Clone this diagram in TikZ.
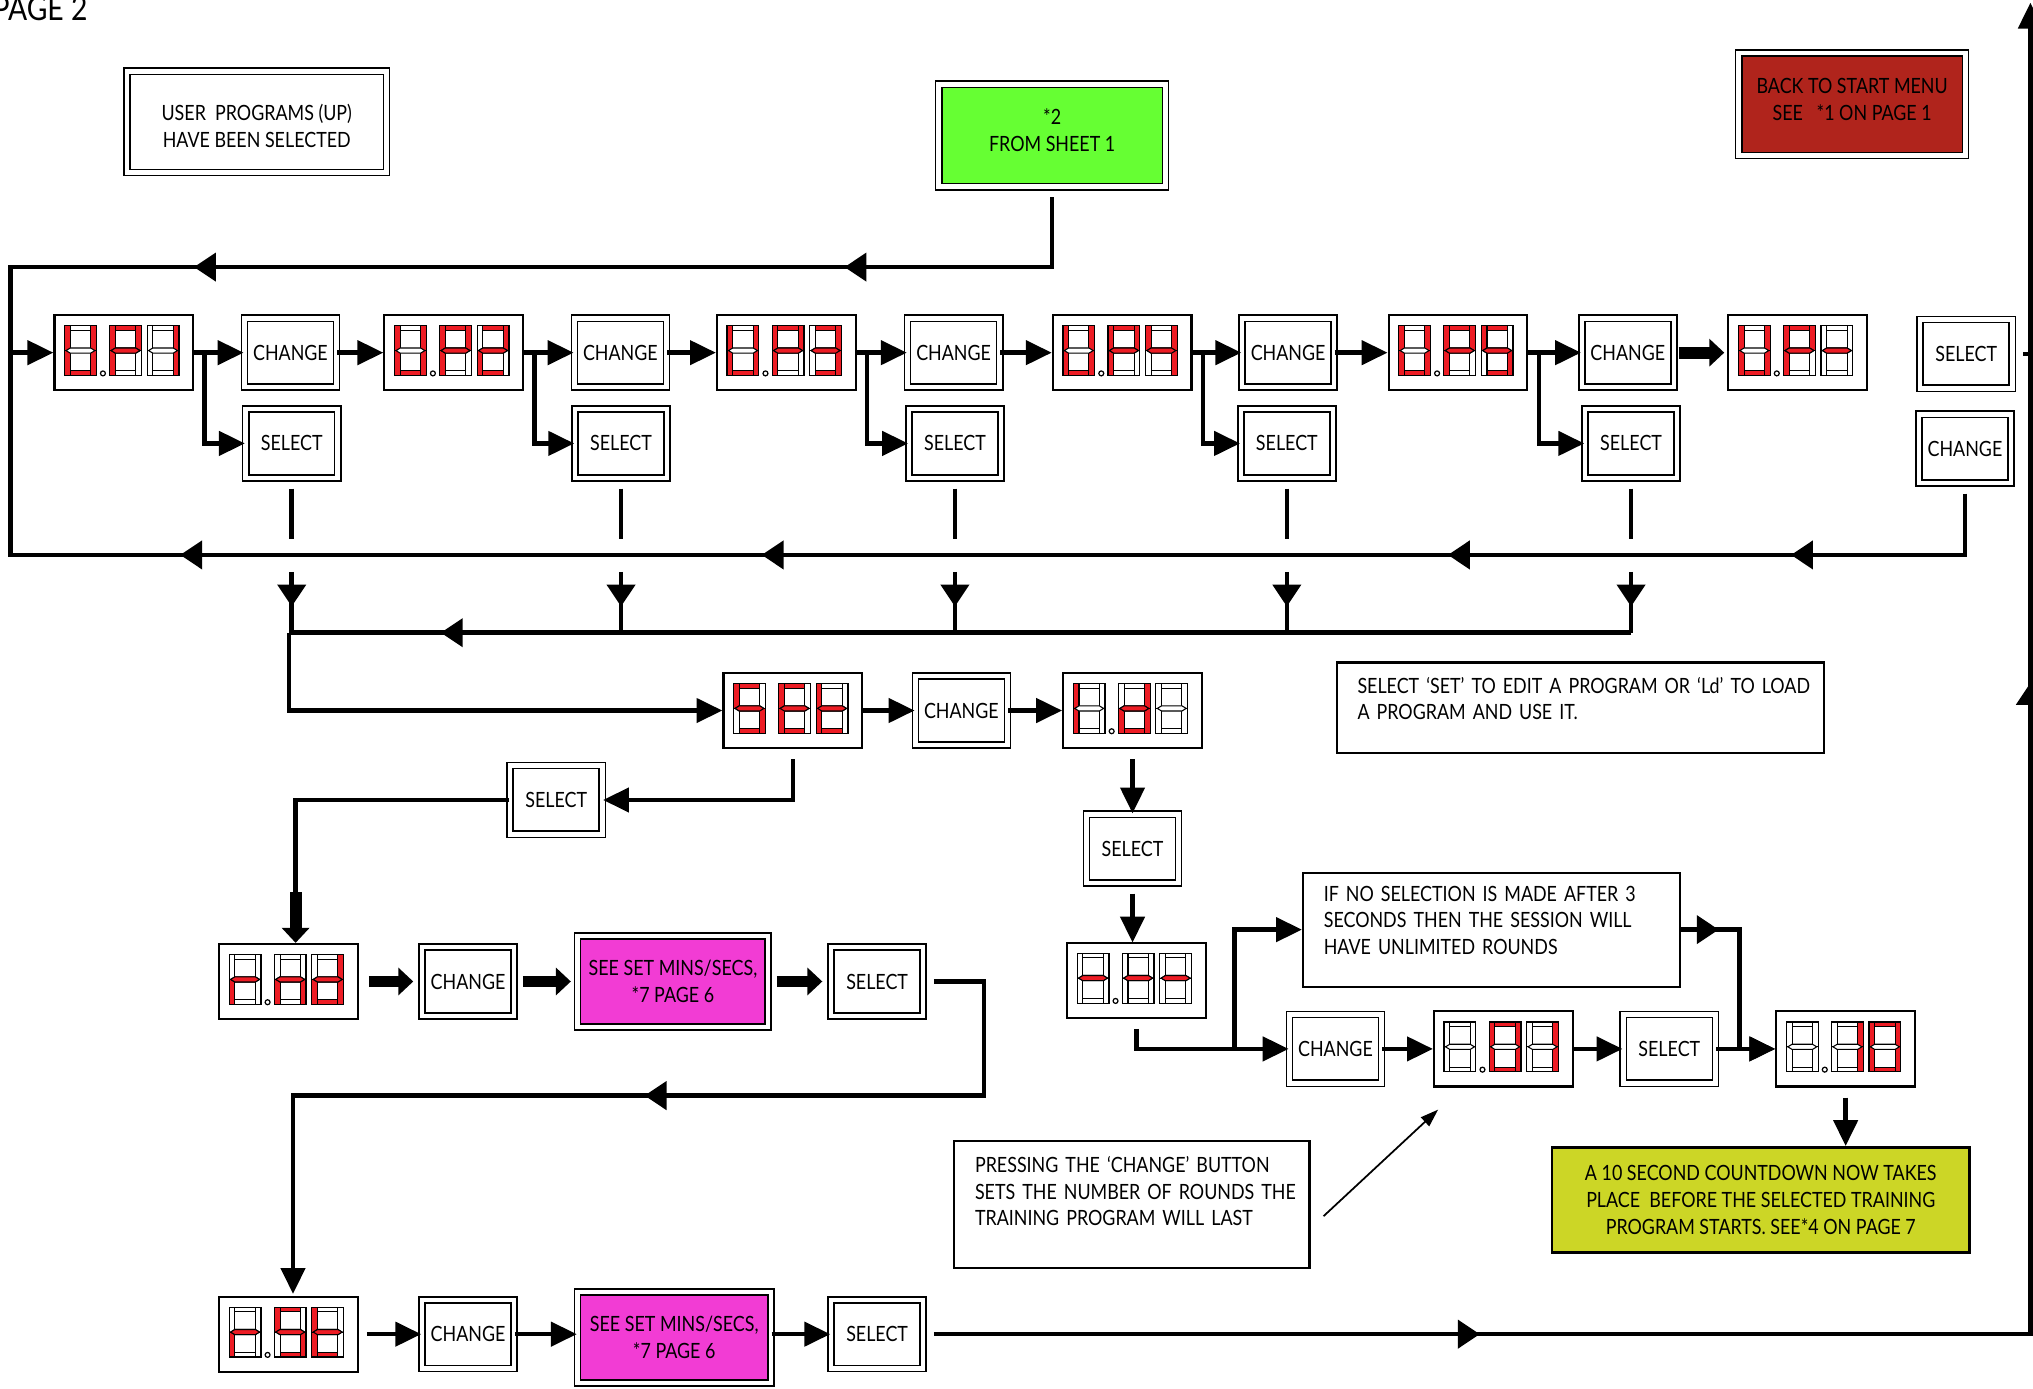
\documentclass[tikz,border=0pt]{standalone}
\usepackage{fontspec}
\setmainfont{Lato}[FakeStretch=0.85]
\usetikzlibrary{arrows.meta, decorations.markings, calc, positioning}

\definecolor{segred}{RGB}{237,28,36}
\definecolor{sheetgreen}{RGB}{102,255,51}
\definecolor{backred}{RGB}{176,36,28}
\definecolor{setmag}{RGB}{242,60,212}
\definecolor{countyel}{RGB}{204,214,38}

\newcommand\unitpx{0.13mm}

% outline of each segment of one digit (picture units, y down)
\def\sga{(4.4,0) rectangle (20.1,3.6)}
\def\sgb{(20.1,0) rectangle (24.5,19.2)}
\def\sgc{(20.1,19.2) rectangle (24.5,38.5)}
\def\sgd{(4.4,34.9) rectangle (20.1,38.5)}
\def\sge{(0,19.2) rectangle (4.4,38.5)}
\def\sgf{(0,0) rectangle (4.4,19.2)}
\def\sgg{(1.1,19.2) -- (4.4,17.2) -- (20.1,17.2) -- (23.4,19.2) -- (20.1,21.2) -- (4.4,21.2) -- cycle}
\def\sgnone{(0,0)}

% lit segments of the characters shown
\def\svU{b,c,d,e,f}
\def\svP{a,b,e,f,g}
\def\svOne{b,c}
\def\svTwo{a,b,g,e,d}
\def\svThree{a,b,g,c,d}
\def\svFour{f,g,b,c}
\def\svFive{a,f,g,c,d}
\def\svDash{g}
\def\svS{a,f,g,c,d}
\def\svE{a,f,g,e,d}
\def\svT{f,g,e,d}
\def\svL{f,e}
\def\svD{b,c,d,e,g}
\def\svR{e,g}
\def\svN{c,e,g}
\def\svZero{a,b,c,d,e,f}
\def\svBlank{none}

\makeatletter
\newcommand\onedigit[2]{%
  \begin{scope}[shift={(#1,9)}]
    \edef\seglist{#2}%
    \foreach \segname in {a,b,c,d,e,f}{\edef\segcmd{\noexpand\draw[segoff] \csname sg\segname\endcsname;}\segcmd}
    \foreach \segname in \seglist{\edef\segcmd{\noexpand\draw[segon] \csname sg\segname\endcsname;}\segcmd}
    \def\gtest{\in@{g}}\expandafter\gtest\expandafter{\seglist}%
    \ifin@\def\gstyle{segon}\else\def\gstyle{segoff}\fi
    \edef\segcmd{\noexpand\draw[\gstyle] \sgg;}\segcmd
    \draw[segframe] (0,0) rectangle (24.5,38.5);
  \end{scope}}
\makeatother

\newcommand\showdigits[5]{%
  \begin{scope}[shift={(#1.north west)}]
    \onedigit{8.6}{#2}\onedigit{43.4}{#3}\onedigit{72.3}{#4}
    \ifnum#5=1 \draw[segframe, fill=white] (38.2,45.8) circle [radius=1.9];\fi
  \end{scope}}

\tikzset{
  flowline/.style={line width=1.3pt},
  flowarr/.style={line width=1.3pt, -{Triangle[width=2.4mm,length=2.6mm]}},
  fatarr/.style={line width=3.4pt, -{Triangle[width=2.7mm,length=1.5mm]}},
  thinarr/.style={line width=0.5pt, -{Triangle[width=1.2mm,length=1.8mm]}},
  arrat/.style={postaction={decorate, decoration={markings,
      mark=at position #1 with {\arrow{Triangle[width=2.8mm,length=2.2mm]}}}}},
  btn/.style={draw, double, double distance=1.3pt, line width=0.45pt,
      minimum width=71*\unitpx, minimum height=53*\unitpx, inner sep=0pt},
  disp/.style={draw, line width=0.6pt, minimum width=107*\unitpx,
      minimum height=58*\unitpx, inner sep=0pt},
  dbox/.style={draw, double, double distance=1.3pt, line width=0.45pt,
      align=center, inner sep=0pt},
  note/.style={draw, line width=0.6pt, align=left, inner xsep=16*\unitpx, inner ysep=0pt},
  segoff/.style={draw=black, fill=white, line width=0.3pt},
  segon/.style={draw=black, fill=segred, line width=0.3pt},
  segframe/.style={draw=black, line width=0.35pt},
}

\begin{document}
\begin{tikzpicture}[x=0.13mm, y=-0.13mm, font=\fontsize{6}{7.6}\selectfont]
\useasboundingbox (0,0) rectangle (1568,1071);

% fixed corners of the long lines
\coordinate (topL) at (8,206);
\coordinate (botL) at (8,428);
\coordinate (busAtop) at (0,416);
\coordinate (busAbot) at (0,441);
\coordinate (busB) at (0,488);
\coordinate (busBL) at (223,488);
\coordinate (fatA) at (228,688);
\coordinate (rA) at (759,845);
\coordinate (rB) at (226,845);
\coordinate (jn) at (952,809);
\coordinate (rbot) at (1566,1029);
\coordinate (rtop) at (1566,2);

\node[anchor=base east, inner sep=0pt, font=\fontsize{9.5}{10}\selectfont] (pagelbl) at (68,16) {PAGE 2};

\node[dbox, minimum width=200*\unitpx, minimum height=78*\unitpx] (upsel) at (198,94)
  {\rule{0pt}{7.1pt}USER~~PROGRAMS (UP)\\HAVE BEEN SELECTED};
\node[dbox, fill=sheetgreen, minimum width=175*\unitpx, minimum height=79*\unitpx] (sheet) at (811.5,104.5)
  {*2\\FROM SHEET 1\\[-4.6pt]\mbox{}};
\node[dbox, fill=backred, minimum width=175*\unitpx, minimum height=79*\unitpx] (back) at (1428.5,80.5)
  {BACK TO START MENU\\SEE~~~*1 ON PAGE 1\\[-4.6pt]\mbox{}};

% user program row
\foreach \i/\dx/\cx/\sx/\dthree in {1/95.5/224/225/\svOne, 2/350/478.5/479/\svTwo,
    3/606.5/735.5/736.5/\svThree, 4/865.5/993.5/992.5/\svFour, 5/1124.5/1255.5/1258/\svFive}{
  \node[disp] (u\i) at (\dx,272) {};
  \showdigits{u\i}{\svU}{\svP}{\dthree}{1}
  \node[btn] (c\i) at (\cx,272) {CHANGE};
  \node[btn] (s\i) at (\sx,342) {SELECT};
  \draw[flowarr] (u\i.east) -- (c\i.west);
  \draw[flowarr] (u\i.east) ++(8,0) |- (s\i.west);
  \draw[flowline, shorten <=1mm] (s\i.south) -- (s\i.south |- busAtop);
  \draw[flowline, arrat=0.57] (s\i.south |- busAbot) -- (s\i.south |- busB);
}
\node[disp] (u6) at (1386.5,272) {};
\showdigits{u6}{\svU}{\svP}{\svDash}{1}
\node[btn] (sr) at (1516.5,273) {SELECT};
\node[btn] (cr) at (1515.5,346) {CHANGE};

\foreach \i/\j in {1/2, 2/3, 3/4, 4/5}
  \draw[flowarr] (c\i.east) -- (u\j.west);
\draw[fatarr, shorten <=0.4mm, shorten >=0.3mm] (c5.east) -- (u6.west);

% loops back to the first program
\draw[flowline, shorten <=1mm, arrat=0.238, arrat=0.777] (sheet.south) |- (topL) -- (topL |- u1.west);
\draw[flowline, shorten <=1mm, arrat=0.110, arrat=0.264, arrat=0.572, arrat=0.833]
  (cr.south) |- (botL) -- (botL |- u1.west);
\draw[flowarr] (topL |- u1.west) -- (u1.west);
\draw[flowline, shorten <=1mm] (sr.east) -- (sr.east -| rbot);

% set / load
\node[disp] (set) at (611.5,548) {};
\showdigits{set}{\svS}{\svE}{\svT}{0}
\node[btn] (c6) at (741.5,548) {CHANGE};
\node[disp] (ld) at (873.5,548) {};
\showdigits{ld}{\svL}{\svD}{\svBlank}{1}
\node[btn] (s6) at (429,617) {SELECT};
\node[btn] (s7) at (873.5,654.5) {SELECT};
\node[note, text width=344*\unitpx, minimum height=70*\unitpx] (note1) at (1219,546)
  {\mbox{SELECT `SET' TO EDIT A PROGRAM OR `Ld' TO LOAD}\\\mbox{A PROGRAM AND USE IT.}\\[-2.2pt]\mbox{}};

\draw[flowline, arrat=0.887] (s5.south |- busB) -- (busBL);
\draw[flowarr] (busBL) |- (set.west);
\draw[flowarr] (set.east) -- (c6.west);
\draw[flowarr] (c6.east) -- (ld.west);
\draw[flowarr, shorten <=1mm] (set.south) |- (s6.east);
\draw[flowline] (s6.west) -| (fatA);
\draw[flowarr, shorten <=1mm] (ld.south) -- (s7.north);
\draw[flowarr, shorten <=1mm] (s7.south) -- (s7.south |- 0,727);

% edit program
\node[disp] (rnd) at (222.5,757) {};
\showdigits{rnd}{\svR}{\svN}{\svD}{1}
\node[btn] (c9) at (361,757) {CHANGE};
\node[dbox, fill=setmag, minimum width=147*\unitpx, minimum height=70*\unitpx] (mag1) at (519,757)
  {SEE SET MINS/SECS,\\*7 PAGE 6};
\node[btn] (s9) at (676.5,757) {SELECT};
\draw[fatarr] (fatA) -- (fatA |- rnd.north);
\draw[fatarr, shorten <=1mm, shorten >=0.8mm] (rnd.east) -- (c9.west);
\draw[fatarr, shorten <=0.8mm, shorten >=0.6mm] (c9.east) -- (mag1.west);
\draw[fatarr, shorten <=0.8mm, shorten >=0.8mm] (mag1.east) -- (s9.west);
\draw[flowarr, shorten <=1mm, arrat=0.483] (s9.east) -| (rA) -- (rB) -- (rB |- 0,998);

\node[disp] (rst) at (222.5,1029) {};
\showdigits{rst}{\svR}{\svS}{\svT}{1}
\node[btn] (c10) at (361,1029) {CHANGE};
\node[dbox, fill=setmag, minimum width=149*\unitpx, minimum height=70*\unitpx] (mag2) at (520,1031.5)
  {SEE SET MINS/SECS,\\*7 PAGE 6};
\node[btn] (s10) at (676.5,1029) {SELECT};
\draw[flowarr, shorten <=0.8mm] (rst.east) -- (c10.west);
\draw[flowarr] (c10.east) -- (c10.east -| mag2.west);
\draw[flowarr] (mag2.east |- s10.west) -- (s10.west);
\draw[flowarr, shorten <=1mm, arrat=0.228, arrat=0.721] (s10.east) -- (rbot) -- (rtop);

% load program: rounds
\node[disp] (dash) at (876.5,756) {};
\showdigits{dash}{\svDash}{\svDash}{\svDash}{1}
\node[note, text width=259*\unitpx, minimum height=88*\unitpx] (ifbox) at (1150.5,717)
  {\mbox{IF NO SELECTION IS MADE AFTER 3}\\\mbox{SECONDS THEN THE SESSION WILL}\\\mbox{HAVE UNLIMITED ROUNDS}\\[-2.2pt]\mbox{}};
\node[btn] (c8) at (1030,809) {CHANGE};
\node[disp] (d01) at (1159.5,809) {};
\showdigits{d01}{\svBlank}{\svZero}{\svOne}{1}
\node[btn] (s8) at (1287.5,809) {SELECT};
\node[disp] (fin) at (1423.5,809) {};
\showdigits{fin}{\svBlank}{\svOne}{\svZero}{1}
\node[draw, line width=0.8pt, fill=countyel, align=center, minimum width=322*\unitpx,
  minimum height=81*\unitpx] (yel) at (1358,925.5)
  {A 10 SECOND COUNTDOWN NOW TAKES\\PLACE~~BEFORE THE SELECTED TRAINING\\PROGRAM STARTS. SEE*4 ON PAGE 7};
\node[note, text width=242*\unitpx, minimum height=98*\unitpx] (press) at (873,929)
  {\mbox{PRESSING THE `CHANGE' BUTTON}\\\mbox{SETS THE NUMBER OF ROUNDS THE}\\\mbox{TRAINING PROGRAM WILL LAST}\\\mbox{}};

\draw[flowarr, shorten <=1mm] (dash.south) |- (c8.west);
\draw[flowarr] (jn) |- (ifbox.west);
\draw[flowarr, arrat=0.175] (ifbox.east) -- ++(45,0) |- (fin.west);
\draw[flowarr] (c8.east) -- (d01.west);
\draw[flowarr] (d01.east) -- (s8.west);
\draw[flowarr] (s8.east) -- (fin.west);
\draw[flowarr, shorten <=1mm] (fin.south) -- (fin.south |- yel.north);
\draw[thinarr] ($(press.east)+(10,9)$) -- ($(d01.south west)+(4,17)$);
\end{tikzpicture}
\end{document}
